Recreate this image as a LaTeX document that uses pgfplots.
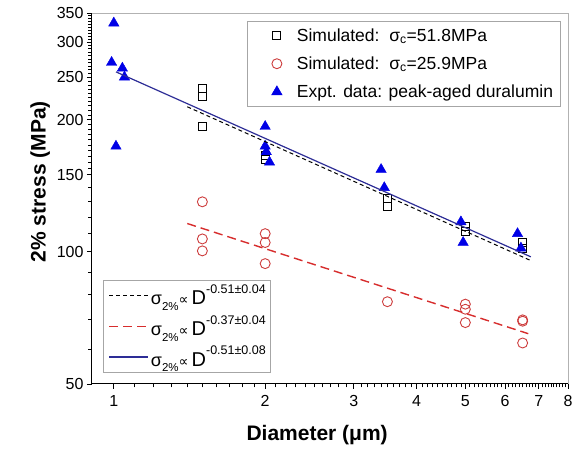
\documentclass[border=0pt]{standalone}
\usepackage{fontspec}
\setmainfont{Liberation Sans}
\newfontfamily\dejavu{DejaVu Sans}
\usepackage{pgfplots}
\pgfplotsset{compat=1.18}

\definecolor{triblue}{RGB}{0,0,230}
\definecolor{circred}{RGB}{205,60,60}
\definecolor{fitred}{RGB}{215,45,45}
\definecolor{fitblue}{RGB}{45,45,150}

% fit legend label: sigma_2% ∝ D^{exp}
\newcommand{\fitlab}[1]{{\fontsize{18}{20}\selectfont σ}\raisebox{-0.7ex}{\fontsize{11.5}{13}\selectfont 2\%}{\dejavu\fontsize{14}{16}\selectfont ∝}\hspace{3pt}{\fontsize{20}{22}\selectfont D}\raisebox{1.45ex}{\fontsize{12.5}{15}\selectfont #1}}

\begin{document}
\begin{tikzpicture}
\path[use as bounding box] (-92pt,-69pt) rectangle (482pt,384pt);

% minor ticks, as an axis of their own
\begin{axis}[
  at={(0,0)}, anchor=south west,
  scale only axis, width=476pt, height=371pt,
  xmode=log, ymode=log,
  xmin=0.905, xmax=8, ymin=50, ymax=350,
  axis x line*=bottom, axis y line*=left,
  axis line style={draw=none},
  tick align=outside,
  major tick length=3.5pt,
  tick style={black, line width=0.8pt},
  xtick={0.9,1.1,1.2,1.3,1.4,1.5,1.6,1.7,1.8,1.9,
    2.1,2.2,2.3,2.4,2.5,2.6,2.7,2.8,2.9,
    3.1,3.2,3.3,3.4,3.5,3.6,3.7,3.8,3.9,
    4.1,4.2,4.3,4.4,4.5,4.6,4.7,4.8,4.9,
    5.1,5.2,5.3,5.4,5.5,5.6,5.7,5.8,5.9,
    6.1,6.2,6.3,6.4,6.5,6.6,6.7,6.8,6.9,
    7.1,7.2,7.3,7.4,7.5,7.6,7.7,7.8,7.9},
  ytick={60,70,80,90,110,120,130,140,
    155,160,165,170,175,180,185,190,195,
    205,210,215,220,225,230,235,240,245,
    255,260,265,270,275,280,285,290,295,
    305,310,315,320,325,330,335,340,345},
  xticklabels={}, yticklabels={},
]
\end{axis}

\begin{axis}[
  name=main,
  at={(0,0)}, anchor=south west,
  scale only axis, width=476pt, height=371pt,
  xmode=log, ymode=log,
  xmin=0.905, xmax=8, ymin=50, ymax=350,
  axis x line*=bottom, axis y line*=left,
  axis line style={black, line width=1pt},
  tick align=outside,
  major tick length=5pt,
  tick style={black, line width=0.9pt},
  xtick={1,2,3,4,5,6,7,8},
  xticklabels={1,2,3,4,5,6,7,8},
  ytick={50,100,150,200,250,300,350},
  yticklabels={50,100,150,200,250,300,350},
  tick label style={font=\fontsize{16}{18}\selectfont},
  xticklabel style={yshift=-3pt},
  xlabel={Diameter (μm)},
  ylabel={2\% stress (MPa)},
  label style={font=\bfseries\fontsize{21}{24}\selectfont},
  xlabel style={at={(axis description cs:0.473,-0.1375)}, anchor=center},
  ylabel style={at={(axis description cs:-0.109,0.545)}, anchor=center},
  legend style={at={(rel axis cs:0.984,0.978)}, anchor=north east,
    draw=gray!70, line width=0.6pt, font=\fontsize{17.5}{19}\selectfont,
    row sep=10pt, inner xsep=5pt, inner ysep=5pt},
  legend cell align=left,
  legend image code/.code={\path[draw=none, fill=none] (-25pt,0pt) -- (18pt,0pt);
    \draw[#1] plot coordinates {(0pt,0pt)};},
  clip=false,
]
\addplot[only marks, mark=square, mark size=4pt, black, line width=0.9pt]
  table {
  x y
  1.5 235
  1.5 226
  1.5 193
  2.0 166
  2.0 162
  3.5 132
  3.5 127
  5.0 114
  5.0 111
  6.5 105
  6.5 102
  };
\addlegendentry{Simulated:\ \ σ\textsubscript{c}=51.8MPa}

\addplot[only marks, mark=o, mark size=5pt, circred, line width=0.9pt]
  table {
  x y
  1.5 130
  1.5 107
  1.5 100.5
  2.0 110
  2.0 105
  2.0 94
  3.5 77
  5.0 76
  5.0 74
  5.0 69
  6.5 70
  6.5 69.5
  6.5 62
  };
\addlegendentry{Simulated:\ \ σ\textsubscript{c}=25.9MPa}

\addplot[only marks, mark=triangle*, mark size=6pt, triblue, fill=triblue]
  table {
  x y
  1.00 332
  0.99 270
  1.04 262
  1.05 250
  1.01 174
  2.00 193
  2.00 174
  2.01 169
  2.04 160
  3.40 154
  3.45 140
  4.90 117
  4.95 105
  6.35 110
  6.45 102
  };
\addlegendentry{Expt. data: peak-aged duralumin}
\end{axis}

\draw[gray!60, line width=0.6pt] (main.north west) -- (main.north east) -- (main.south east);

\begin{axis}[
  at={(0,0)}, anchor=south west,
  scale only axis, width=476pt, height=371pt,
  xmode=log, ymode=log,
  xmin=0.905, xmax=8, ymin=50, ymax=350,
  hide axis,
  legend style={at={(rel axis cs:0.023,0.032)}, anchor=south west,
    draw=gray!70, line width=0.6pt, font=\fontsize{15}{18}\selectfont,
    row sep=5pt, inner xsep=2pt, inner ysep=2pt},
  legend cell align=left,
  legend image code/.code={\path[draw=none, fill=none] (0pt,0pt) -- (43pt,0pt);
    \draw[#1] (4pt,0pt) -- (43pt,0pt);},
]
\addplot[black, dash pattern=on 4pt off 3pt, line width=1pt]
  coordinates {(1.4,214) (6.75,95.5)};
\addlegendentry{\fitlab{-0.51±0.04}}
\addplot[fitred, dash pattern=on 9pt off 5pt, line width=1.4pt]
  coordinates {(1.4,116) (6.67,65.1)};
\addlegendentry{\fitlab{-0.37±0.04}}
\addplot[fitblue, line width=1.2pt]
  coordinates {(1.01,257) (6.75,97.4)};
\addlegendentry{\fitlab{-0.51±0.08}}
\end{axis}
\end{tikzpicture}
\end{document}
